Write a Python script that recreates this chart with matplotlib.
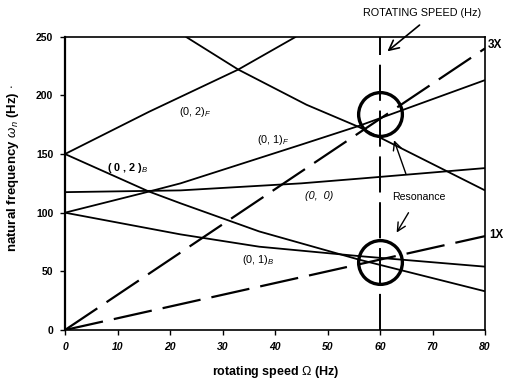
import matplotlib
matplotlib.use("Agg")
import matplotlib.pyplot as plt

plt.rcParams['font.family'] = ['Liberation Sans', 'DejaVu Sans']
plt.rcParams['mathtext.fontset'] = 'custom'
plt.rcParams['mathtext.rm'] = 'Liberation Sans'
plt.rcParams['mathtext.it'] = 'Liberation Sans:italic'
plt.rcParams['lines.scale_dashes'] = False

# ---- data ----
x_02F = [0, 16, 33, 44]
y_02F = [150, 186, 222, 250]
x_desc = [23, 33, 46, 56, 80]
y_desc = [250, 222, 192, 173, 119]
x_01F = [0, 16, 22, 45, 56, 80]
y_01F = [100, 118, 125, 158, 174, 213]
x_00 = [0, 22, 45, 56, 80]
y_00 = [117.5, 119, 125, 129, 138]
x_02B = [0, 16, 22, 37, 56, 80]
y_02B = [150, 118, 108, 84, 60, 33]
x_01B = [0, 22, 37, 56, 80]
y_01B = [100, 81.5, 71, 63, 54]

x_1X = [0, 80]
y_1X = [0, 80]
x_3X = [0, 80]
y_3X = [0, 240]

rotating_speed = 60
res_x = [60, 60]
res_y = [184, 58]

xticks = [0, 10, 20, 30, 40, 50, 60, 70, 80]
yticks = [0, 50, 100, 150, 200, 250]

W, H = 505, 382
fig = plt.figure(figsize=(W / 100, H / 100), dpi=100)
ax = fig.add_axes([65 / W, 1 - 330 / H, 420 / W, 293.3 / H])

lw = 1.3
for xs, ys in [(x_02F, y_02F), (x_desc, y_desc), (x_01F, y_01F),
               (x_00, y_00), (x_02B, y_02B), (x_01B, y_01B)]:
    ax.plot(xs, ys, color='black', lw=lw, solid_capstyle='butt')

ax.plot(x_1X, y_1X, color='black', lw=1.6, dashes=(28, 8))
ax.plot(x_3X, y_3X, color='black', lw=1.6, dashes=(28, 8))
ax.plot([rotating_speed, rotating_speed], [0, 250], color='black', lw=1.4, dashes=(26, 7))

ax.plot(res_x, res_y, 'o', ms=31.5, mfc='none', mec='black', mew=2.4)

ax.set_xlim(0, 80)
ax.set_ylim(0, 250)
ax.set_xticks(xticks)
ax.set_yticks(yticks)
ax.set_xticklabels([str(v) for v in xticks], fontsize=7.5, fontweight='bold', fontstyle='italic')
ax.set_yticklabels([str(v) for v in yticks], fontsize=7.5, fontweight='bold')
ax.tick_params(axis='both', direction='out', length=3.5, width=1, pad=5)
for s in ax.spines.values():
    s.set_linewidth(1.2)
ax.spines['left'].set_linewidth(1.6)

# curve labels
fs = 7.8
ax.text(24.8, 186, r'(0, 2)$_F$', fontsize=fs, ha='center', va='center')
ax.text(12, 138, r'( 0 , 2 )$_B$', fontsize=fs, ha='center', va='center', fontweight='bold')
ax.text(39.6, 162, r'(0, 1)$_F$', fontsize=fs, ha='center', va='center')
ax.text(48.4, 114.5, '(0,  0)', fontsize=fs, ha='center', va='center', fontstyle='italic')
ax.text(36.8, 60, r'(0, 1)$_B$', fontsize=fs, ha='center', va='center')
ax.text(67.4, 113, 'Resonance', fontsize=7.6, ha='center', va='center')

ap = dict(arrowstyle='->,head_length=0.6,head_width=0.3', lw=1.0, color='black')
ax.annotate('', xy=(62.5, 164), xytext=(65.1, 131), arrowprops=ap)
ax.annotate('', xy=(62.9, 81), xytext=(65.7, 102), arrowprops=ap)

fig.text(422 / W, 1 - 13.5 / H, 'ROTATING SPEED (Hz)', fontsize=7.8, ha='center', va='center')
ax.annotate('', xy=(61, 236), xytext=(421.7 / W, 1 - 23.3 / H), textcoords='figure fraction',
            arrowprops=dict(arrowstyle='->,head_length=0.7,head_width=0.35', lw=1.2, color='black'),
            annotation_clip=False)

fig.text(488 / W, 1 - 45 / H, '3X', fontsize=8.5, fontweight='bold', ha='left', va='center')
fig.text(489 / W, 1 - 235 / H, '1X', fontsize=8.3, fontweight='bold', ha='left', va='center')

fig.text(276 / W, 1 - 372 / H, r'rotating speed $\Omega$ (Hz)', fontsize=9, fontweight='bold',
         ha='center', va='center')
fig.text(13 / W, 1 - 168 / H, r'natural frequency $\omega_n$ (Hz) $\cdot$', fontsize=9.5,
         fontweight='bold', ha='center', va='center', rotation=90)

fig.savefig('out.png', dpi=100)
